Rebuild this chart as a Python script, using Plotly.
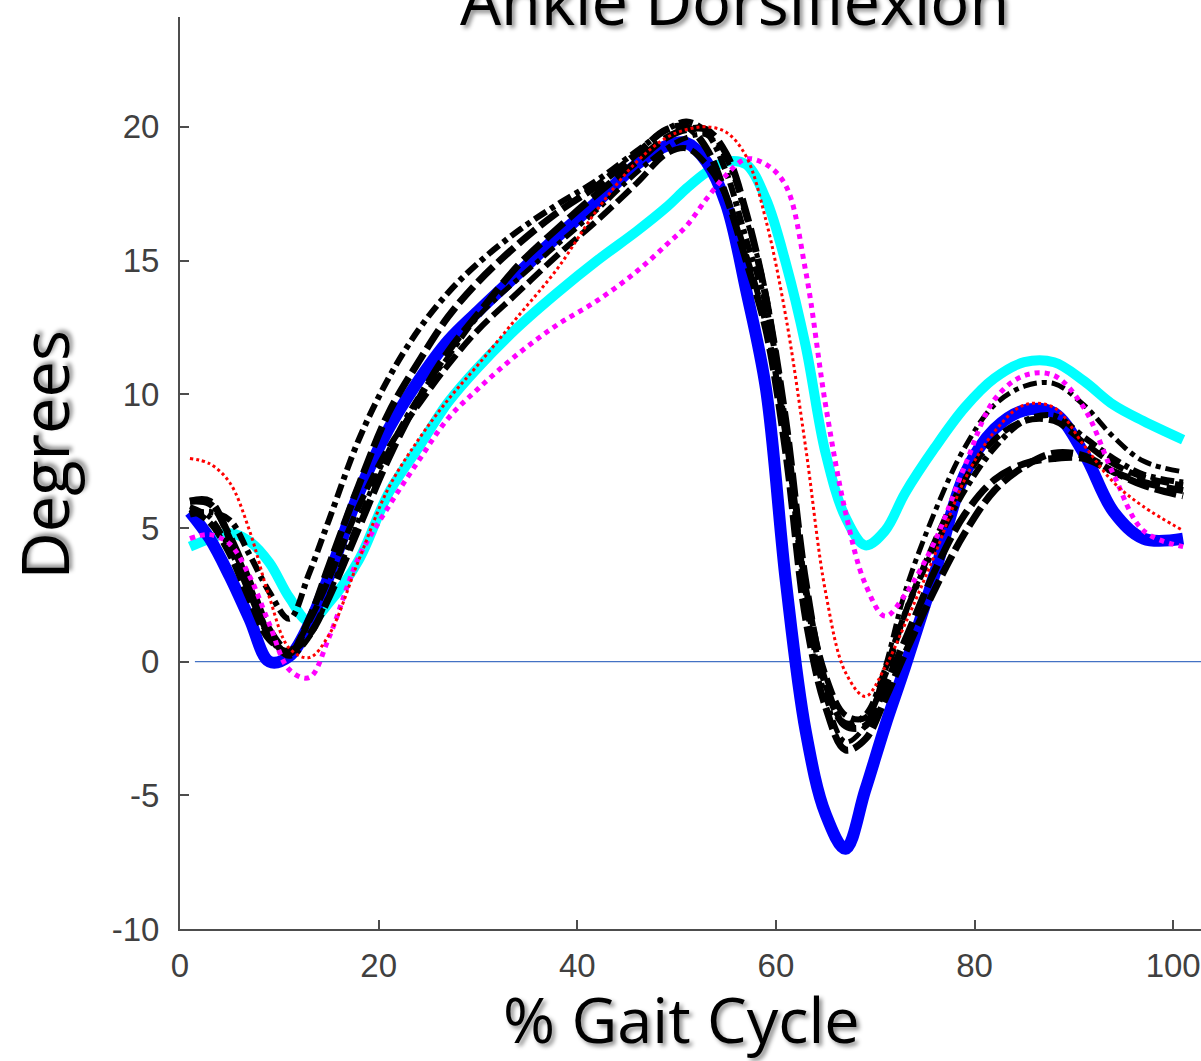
import plotly.graph_objects as go

# % gait cycle sample positions (shared by all series)
gait_pct = [1, 3, 5, 7, 9, 11, 13, 15, 18, 21, 24, 27, 30, 34, 38, 42, 46, 49, 51, 53,
            55, 57, 59, 61, 63, 65, 67, 69, 71, 73, 76, 79, 82, 85, 88, 91, 94, 97, 101]

blue_trial = [5.6, 4.6, 3.2, 1.6, 0.0, 0.2, 1.4, 3.2, 6.3, 8.7, 10.5, 12.0, 13.1, 14.5, 15.9, 17.2, 18.6, 19.3, 19.4, 18.7,
              17.1, 13.9, 10.2, 3.0, -2.6, -5.7, -7.0, -4.8, -2.4, -0.2, 3.3, 7.0, 8.7, 9.4, 9.3, 7.8, 5.6, 4.6, 4.6]
cyan_trial = [4.3, 4.6, 4.8, 4.5, 3.7, 2.4, 1.5, 2.2, 3.8, 6.3, 8.0, 9.7, 11.0, 12.5, 13.8, 15.0, 16.1, 17.0, 17.7, 18.3,
              18.7, 18.6, 17.3, 14.9, 11.8, 7.8, 5.4, 4.35, 4.9, 6.3, 8.0, 9.5, 10.6, 11.2, 11.2, 10.5, 9.6, 9.0, 8.3]
magenta_trial = [4.6, 4.75, 4.4, 3.2, 1.4, -0.3, -0.6, 0.9, 3.9, 5.8, 7.5, 9.1, 10.2, 11.5, 12.6, 13.5, 14.6, 15.6, 16.3, 17.3,
                 18.2, 18.8, 18.6, 17.8, 14.6, 9.6, 5.6, 2.9, 1.7, 2.5, 4.5, 7.3, 9.8, 10.7, 10.7, 9.5, 7.0, 4.9, 4.3]
red_trial = [7.6, 7.4, 6.7, 4.9, 2.4, 0.5, 0.15, 1.0, 3.8, 6.5, 8.3, 9.8, 11.1, 12.9, 14.7, 16.9, 18.7, 19.6, 19.9, 20.0,
             19.8, 18.9, 16.5, 12.9, 8.0, 2.6, -0.4, -1.3, -0.2, 1.4, 4.0, 6.8, 8.6, 9.6, 9.5, 8.1, 6.7, 5.8, 4.9]
black_1 = [5.5, 5.6, 5.3, 4.0, 2.6, 1.6, 3.3, 5.3, 8.3, 10.6, 12.4, 13.8, 14.9, 16.1, 17.1, 18.0, 19.1, 19.9, 20.2, 19.8,
           18.3, 15.8, 13.3, 8.8, 2.6, -0.9, -2.3, -2.0, -0.3, 1.8, 4.3, 6.4, 8.0, 9.0, 9.2, 8.4, 7.6, 7.0, 6.7]
black_2 = [6.0, 6.0, 4.6, 2.8, 1.0, 0.3, 1.6, 3.6, 6.6, 9.3, 11.2, 12.9, 14.2, 15.6, 16.8, 17.8, 19.0, 19.9, 20.0, 19.2,
           17.4, 15.0, 12.4, 7.8, 1.6, -1.7, -3.3, -2.9, -1.4, 0.3, 2.7, 4.8, 6.4, 7.3, 7.8, 7.7, 7.1, 6.6, 6.2]
black_3 = [5.8, 5.4, 4.2, 2.5, 0.9, 0.2, 0.9, 2.5, 5.3, 7.9, 9.9, 11.4, 12.9, 14.3, 15.6, 16.9, 18.3, 19.2, 19.6, 19.7,
           18.8, 16.6, 13.8, 8.6, 2.2, -1.3, -3.0, -2.4, -0.2, 2.6, 5.6, 8.0, 9.6, 10.3, 10.4, 9.6, 8.4, 7.5, 7.1]
black_4 = [5.7, 5.2, 4.0, 2.3, 0.8, 0.4, 1.5, 3.1, 5.8, 8.0, 9.6, 11.1, 12.4, 13.8, 15.2, 16.5, 17.9, 19.0, 19.2, 18.6,
           17.4, 15.2, 12.6, 8.4, 2.8, -0.5, -2.0, -2.1, -0.5, 1.8, 4.5, 6.8, 8.3, 9.0, 9.0, 8.2, 7.4, 6.9, 6.6]
black_5 = [6.0, 5.9, 4.7, 3.0, 1.2, 0.4, 1.0, 2.4, 5.0, 7.6, 9.8, 11.6, 13.0, 14.8, 16.2, 17.5, 18.7, 19.6, 19.9, 19.9,
           19.0, 16.8, 13.6, 9.0, 3.0, -0.8, -2.4, -2.4, -0.9, 0.8, 3.4, 5.5, 6.8, 7.4, 7.6, 7.6, 7.1, 6.7, 6.4]

x_ticks = [0, 20, 40, 60, 80, 100]
y_ticks = [-10, -5, 0, 5, 10, 15, 20]
y_tick_text = ["-10", "-5", "0", "5", "10", "15", "20"]

fig = go.Figure()

# thin reference line at 0 degrees
fig.add_shape(type="line", xref="x", yref="y", x0=1.5, x1=102.8, y0=0, y1=0,
              line=dict(color="#4472C4", width=1.2), layer="below")

def add(y, color, width, dash="solid"):
    fig.add_trace(go.Scatter(x=gait_pct, y=y, mode="lines",
                             line=dict(color=color, width=width, dash=dash, shape="spline", smoothing=1.0),
                             showlegend=False, hoverinfo="skip"))

add(cyan_trial, "#00FFFF", 10)
add(blue_trial, "#0000FF", 12)
add(black_5, "#000000", 7, "24px,7px")
add(black_2, "#000000", 7, "22px,6px")
add(black_4, "#000000", 6, "18px,6px")
add(black_3, "#000000", 5, "14px,5px,5px,5px")
add(black_1, "#000000", 6, "14px,5px,5px,5px")
add(magenta_trial, "#FF00FF", 5, "dot")
add(red_trial, "#FF0000", 3, "dot")

shadow = "3px 3px 4px rgba(0,0,0,0.45)"
title_font = dict(family="Open Sans", size=65, color="#000000", shadow=shadow)
xtitle_font = dict(family="Open Sans", size=63, color="#000000", shadow=shadow)

fig.add_annotation(text="Ankle Dorsiflexion", xref="paper", yref="paper",
                   x=(734 - 180) / 1021, y=(929.5 - 1) / 912, xanchor="center", yanchor="middle",
                   showarrow=False, font=title_font)
fig.add_annotation(text="% Gait Cycle", xref="paper", yref="paper",
                   x=(681 - 180) / 1021, y=(929.5 - 1019) / 912, xanchor="center", yanchor="middle",
                   showarrow=False, font=xtitle_font)
fig.add_annotation(text="Degrees", xref="paper", yref="paper", textangle=-90,
                   x=(43 - 180) / 1021, y=(929.5 - 455) / 912, xanchor="center", yanchor="middle",
                   showarrow=False, font=title_font)

axis_common = dict(showgrid=False, showline=True, linecolor="#4d4d4d", linewidth=2,
                   ticks="inside", ticklen=9, tickwidth=1.5, tickcolor="#4d4d4d",
                   tickfont=dict(family="Liberation Sans", size=33, color="#404040"))

fig.update_xaxes(range=[0, 102.8], tickvals=x_ticks, zeroline=False, ticklabelstandoff=6, **axis_common)
fig.update_yaxes(range=[-10, 24.11], tickvals=y_ticks, ticktext=y_tick_text, zeroline=False,
                 ticklabelstandoff=12, **axis_common)

fig.update_layout(width=1201, height=1061, margin=dict(l=180, r=0, t=17, b=132),
                  plot_bgcolor="white", paper_bgcolor="white")

fig.write_html("out.html", config={"displayModeBar": False},
               post_script="document.body.style.margin='0px';document.body.style.overflow='hidden';")
